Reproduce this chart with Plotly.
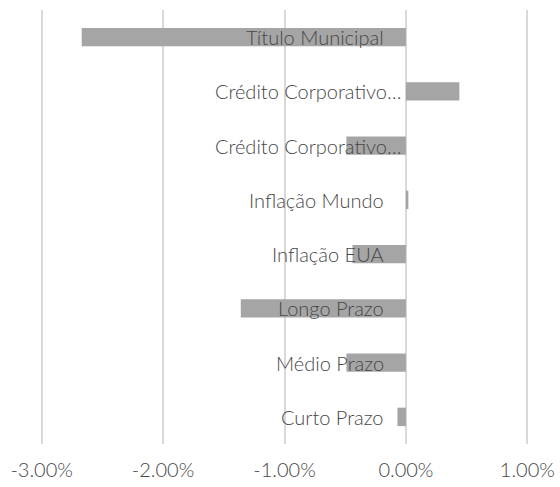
import plotly.graph_objects as go

categories = ["Curto Prazo", "Médio Prazo", "Longo Prazo", "Inflação EUA",
              "Inflação Mundo", "Crédito Corporativo…", "Crédito Corporativo…", "Título Municipal"]
values = [-0.0007, -0.0049, -0.0136, -0.0044, 0.0002, -0.0049, 0.0044, -0.0267]
tick_vals = [-0.03, -0.02, -0.01, 0.0, 0.01]
tick_text = ["-3.00%", "-2.00%", "-1.00%", "0.00%", "1.00%"]

ypos = list(range(len(categories)))
FONT = "Lato"
TXT = "#474747"

fig = go.Figure(go.Bar(x=values, y=ypos, orientation="h", marker_color="#A5A5A5",
                       marker_line_width=0, hoverinfo="skip"))

for yi, c in zip(ypos, categories):
    truncated = c.endswith("…")
    fig.add_annotation(x=0, y=yi, xref="x", yref="y", text=c, showarrow=False,
                       xanchor="right", yanchor="middle", xshift=-2 if truncated else -20,
                       font=dict(family=FONT, size=20, color=TXT, weight=300))

fig.update_layout(
    width=560, height=487,
    margin=dict(l=38, r=29, t=10, b=43, autoexpand=False),
    plot_bgcolor="white", paper_bgcolor="white",
    bargap=0.66, showlegend=False,
    xaxis=dict(range=[-0.0303, 0.0103], tickvals=tick_vals, ticktext=tick_text,
               showgrid=True, gridcolor="#D9D9D9", gridwidth=1.5, zeroline=False,
               ticks="", ticklabelstandoff=12, automargin=False,
               tickfont=dict(family=FONT, size=20, color=TXT, weight=300)),
    yaxis=dict(range=[-0.5, len(categories) - 0.5], showticklabels=False,
               showgrid=False, zeroline=False, ticks="", automargin=False),
)
fig.write_html("out.html", config={"displayModeBar": False},
               post_script="document.body.style.margin='0';document.body.style.overflow='hidden';")
